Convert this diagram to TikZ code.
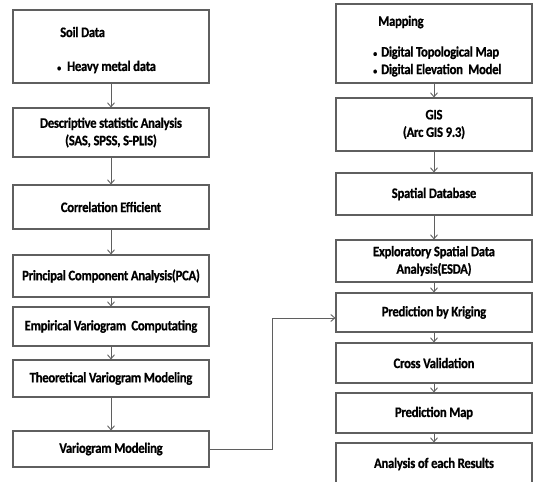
\documentclass[tikz,border=0pt]{standalone}
\usepackage{fontspec}
\setmainfont{Carlito}[FakeStretch=0.88, LetterSpace=-2, BoldFeatures={FakeBold=0.6}]
\usetikzlibrary{arrows.meta}
\definecolor{edge}{HTML}{5F5F5F}
\newcommand{\dotmark}{{\fontsize{9}{9}\selectfont\textbullet}}
\begin{document}
\begin{tikzpicture}[x=1pt,y=-1pt,
  stage/.style={draw=edge, line width=1.1pt, fill=white, minimum width=196pt,
    inner sep=0pt, align=center, font=\bfseries\fontsize{14.5}{17.5}\selectfont},
  flow/.style={draw=edge, line width=0.9pt, -{Straight Barb[length=4pt,width=7pt]}},
  txt/.style={font=\bfseries\fontsize{14.5}{17.5}\selectfont, anchor=west, inner sep=0pt}]
\useasboundingbox (0,0) rectangle (533,482);
\clip (0,0) rectangle (533,482);

% left column
\node[stage, minimum height=73pt] (soil) at (111,46.5) {};
\node[txt] (soilT) at (60,32) {Soil Data};
\node[txt] (soilB) at (57,67) {\dotmark\hspace{6pt}Heavy metal data};
\node[stage, minimum height=49pt] (desc) at (111,132.5) {Descriptive statistic Analysis\\(SAS, SPSS, S-PLIS)};
\node[stage, minimum height=44pt] (corr) at (111,207) {Correlation Efficient};
\node[stage, minimum height=42pt] (pca) at (111,276) {Principal Component Analysis(PCA)};
\node[stage, minimum height=39pt] (emp) at (111,326.5) {Empirical Variogram\ \ Computating};
\node[stage, minimum height=37pt] (theo) at (111,378.5) {Theoretical Variogram Modeling};
\node[stage, minimum height=36pt] (vario) at (111,449) {Variogram Modeling};

% right column
\node[stage, minimum height=79pt] (map) at (434,43.5) {};
\node[txt] (mapT) at (378,22) {Mapping};
\node[txt, align=left] (mapB) at (373,61.5) {\dotmark\hspace{4pt}Digital Topological Map\\\dotmark\hspace{4pt}Digital Elevation\ \ Model};
\node[stage, minimum height=53pt] (gis) at (434,124.5) {GIS\\(Arc GIS 9.3)};
\node[stage, minimum height=42pt] (sdb) at (434,194) {Spatial Database};
\node[stage, minimum height=42pt] (esda) at (434,261) {Exploratory Spatial Data\\Analysis(ESDA)};
\node[stage, minimum height=39pt] (krig) at (434,312.5) {Prediction by Kriging};
\node[stage, minimum height=40pt] (cross) at (434,363) {Cross Validation};
\node[stage, minimum height=40pt] (pmap) at (434,413) {Prediction Map};
\node[stage, minimum height=42pt] (res) at (434,464) {Analysis of each Results};

% connectors
\foreach \a/\b in {soil/desc, desc/corr, corr/pca, pca/emp, emp/theo, theo/vario,
                   map/gis, gis/sdb, sdb/esda, esda/krig, krig/cross, cross/pmap, pmap/res}
  \draw[flow] (\a) -- (\b);
\coordinate (bend) at (272,318);
\draw[flow] (vario.east) -| (bend) -- (krig.west |- bend);
\end{tikzpicture}
\end{document}
